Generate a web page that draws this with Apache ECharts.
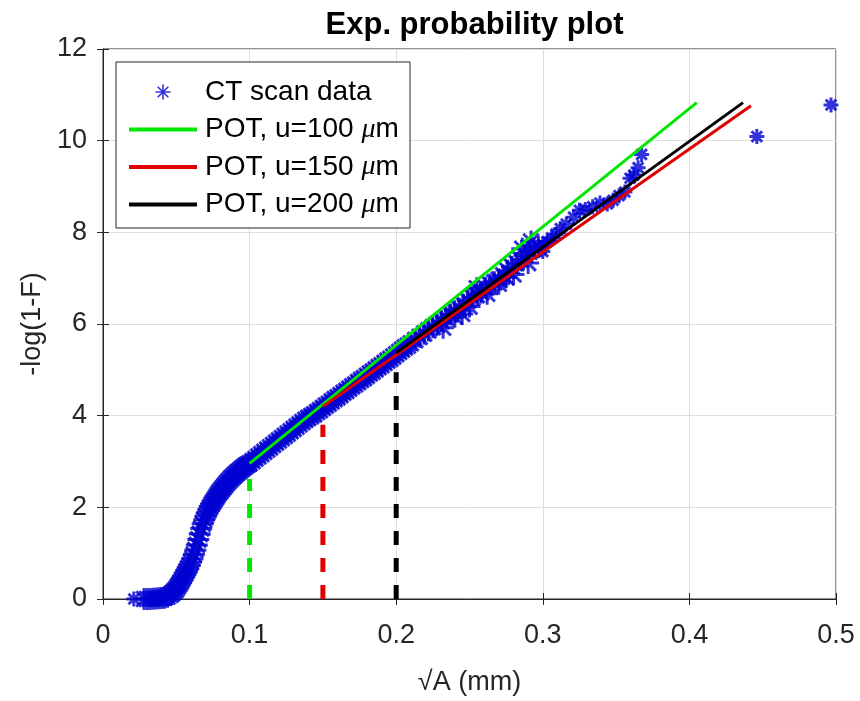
<!DOCTYPE html>
<html>
<head>
<meta charset="utf-8">
<script src="https://cdn.jsdelivr.net/npm/echarts@6/dist/echarts.min.js"></script>
<style>
html,body{margin:0;padding:0;background:#fff;}
#chart{width:860px;height:701px;}
</style>
</head>
<body>
<div id="chart"></div>
<script>
// ---- data ----
const xTickValues = [0, 0.1, 0.2, 0.3, 0.4, 0.5];
const yTickValues = [0, 2, 4, 6, 8, 10, 12];

// CT scan data: sqrt(A) in mm, -log(1-F)
const ctX = [
  0.021,0.028,0.030,0.032,0.034,0.036,0.038,0.040,0.042,0.044,0.046,
  0.047,0.048,0.049,0.050,0.051,0.052,0.053,0.054,0.055,0.056,0.057,0.058,0.059,0.060,
  0.061,0.062,0.063,0.064,0.065,0.066,0.067,0.068,0.069,0.070,0.071,0.072,0.073,
  0.074,0.075,0.076,0.077,0.078,0.079,0.080,0.081,0.082,0.083,0.084,0.085,0.086,0.087,0.088,0.089,0.090,0.091,0.092,
  0.093,0.094,0.095,0.096,0.097,0.098,0.099,0.100,0.102,0.104,0.106,0.108,0.110,0.112,0.114,0.116,0.118,
  0.120,0.122,0.124,0.126,0.128,0.130,0.132,0.134,0.136,0.138,0.140,0.142,0.144,
  0.146,0.148,0.150,0.152,0.154,0.156,0.158,0.160,0.162,0.164,0.166,0.168,0.170,0.172,0.174,0.176,0.178,0.180,
  0.182,0.184,0.186,0.188,0.190,0.192,0.194,0.196,0.198,0.200,0.202,0.204,0.206,0.208,0.210,0.213,0.216,0.219,
  0.222,0.225,0.228,0.231,0.234,0.237,0.240,0.243,0.246,0.249,0.252,0.255,0.258,
  0.261,0.264,0.267,0.270,0.273,0.276,0.279,0.282,0.285,0.288,0.291,0.294,0.297,
  0.300,0.303,0.306,0.309,0.312,0.316,0.321,0.325,0.329,0.334,0.339,0.344,0.348,
  0.352,0.356,0.3595,0.362,0.365,0.3674,0.446,0.4966,
  0.232,0.245,0.262,0.280,0.290,0.255,0.286,0.292,0.270,0.300,0.240,0.250,0.275
];
const ctY = [
  0.00,0.00,0.00,0.00,0.005,0.01,0.015,0.02,0.03,0.05,0.09,
  0.12,0.15,0.18,0.22,0.27,0.32,0.37,0.43,0.49,0.55,0.61,0.67,0.73,0.80,
  0.88,0.97,1.07,1.18,1.30,1.42,1.54,1.64,1.73,1.81,1.88,1.94,2.00,
  2.06,2.11,2.16,2.21,2.26,2.31,2.35,2.39,2.43,2.47,2.51,2.55,2.58,2.62,2.65,2.68,2.71,2.74,2.77,
  2.79,2.82,2.85,2.87,2.90,2.92,2.94,2.96,3.01,3.06,3.11,3.16,3.21,3.26,3.31,3.36,3.41,
  3.46,3.51,3.56,3.61,3.66,3.71,3.76,3.81,3.86,3.91,3.95,3.99,4.03,
  4.08,4.12,4.17,4.22,4.26,4.31,4.36,4.40,4.45,4.50,4.54,4.59,4.64,4.68,4.73,4.78,4.82,4.87,
  4.92,4.96,5.01,5.06,5.10,5.15,5.20,5.24,5.29,5.34,5.39,5.44,5.49,5.53,5.58,5.65,5.72,5.79,
  5.86,5.93,5.99,6.06,6.14,6.21,6.28,6.34,6.42,6.51,6.58,6.63,6.69,
  6.79,6.86,6.91,6.97,7.06,7.16,7.25,7.33,7.40,7.50,7.58,7.64,7.68,
  7.74,7.80,7.88,7.96,8.08,8.18,8.33,8.48,8.50,8.56,8.64,8.62,8.70,
  8.80,8.88,9.18,9.25,9.41,9.70,10.09,10.78,
  5.92,6.22,6.66,7.08,7.33,6.78,7.64,7.80,6.88,7.58,6.16,6.38,7.02
];

// POT fitted lines (start / end)
const pot100X = [0.100, 0.405];
const pot100Y = [2.96, 10.83];
const pot150X = [0.150, 0.442];
const pot150Y = [4.20, 10.76];
const pot200X = [0.200, 0.4366];
const pot200Y = [5.37, 10.83];

// threshold markers (dashed verticals)
const thrGreenX = [0.100, 0.100];
const thrGreenY = [0, 2.62];
const thrRedX = [0.150, 0.150];
const thrRedY = [0, 3.80];
const thrBlackX = [0.200, 0.200];
const thrBlackY = [0, 4.95];

const seriesNames = ['CT scan data', 'POT, u=100 μm', 'POT, u=150 μm', 'POT, u=200 μm'];

function pairs(xs, ys) { return xs.map((x, i) => [x, ys[i]]); }

const FONT = "'Liberation Sans', Arial, Helvetica, sans-serif";
const AX = '#262626';
const BLUE = '#0000d2';
const star = 'path://M0,-10L0,10M-10,0L10,0M-7.07,-7.07L7.07,7.07M-7.07,7.07L7.07,-7.07';
const lineIcon = 'path://M0,0H68V4H0Z';

const chart = echarts.init(document.getElementById('chart'), null, {renderer: 'canvas'});

const gridL = 103, gridR = 836, gridT = 49, gridB = 601;

const option = {
  backgroundColor: '#ffffff',
  animation: false,
  title: {
    text: 'Exp. probability plot',
    left: (gridL + gridR) / 2,
    textAlign: 'center',
    top: 5,
    textStyle: {fontFamily: FONT, fontSize: 31, fontWeight: 'bold', color: '#000'}
  },
  grid: {
    left: gridL, right: 860 - gridR, top: gridT, bottom: 701 - gridB,
    show: true, borderColor: AX, borderWidth: 1, backgroundColor: '#fff'
  },
  legend: {
    data: [
      {name: seriesNames[0], icon: star, itemStyle: {color: 'rgba(0,0,0,0)', borderColor: BLUE, borderWidth: 1.6}},
      {name: seriesNames[1], icon: lineIcon, itemStyle: {color: '#00e800', borderWidth: 0}},
      {name: seriesNames[2], icon: lineIcon, itemStyle: {color: '#e00000', borderWidth: 0}},
      {name: seriesNames[3], icon: lineIcon, itemStyle: {color: '#000000', borderWidth: 0}}
    ],
    orient: 'vertical',
    left: 129, top: 77,
    padding: 0,
    itemWidth: 68, itemHeight: 15,
    itemGap: 7.5,
    z: 20,
    formatter: function (name) { return name.replace('μm', '{mu|μ}m'); },
    textStyle: {
      fontFamily: FONT, fontSize: 28, color: '#000', lineHeight: 30, padding: [0, 0, 0, 3],
      rich: {mu: {fontFamily: "'Liberation Serif', 'DejaVu Serif', serif", fontStyle: 'italic', fontSize: 28, color: '#000', lineHeight: 30}}
    }
  },
  graphic: [{
    type: 'rect', z: 15, zlevel: 0,
    shape: {x: 116, y: 62, width: 294, height: 166},
    style: {fill: '#fff', stroke: AX, lineWidth: 1}
  }],
  xAxis: [{
    type: 'value', min: xTickValues[0], max: xTickValues[xTickValues.length - 1], interval: 0.1,
    position: 'bottom',
    name: '√A (mm)', nameLocation: 'middle', nameGap: 70,
    nameTextStyle: {fontFamily: FONT, fontSize: 27, color: AX},
    axisLine: {show: true, lineStyle: {color: AX, width: 1}},
    axisTick: {show: true, inside: true, length: 6, lineStyle: {color: AX}},
    axisLabel: {fontFamily: FONT, fontSize: 27, color: AX, margin: 23},
    splitLine: {show: true, lineStyle: {color: '#dedede', width: 1}}
  }, {
    type: 'value', min: xTickValues[0], max: xTickValues[xTickValues.length - 1], interval: 0.1,
    position: 'top',
    axisLine: {show: true, lineStyle: {color: AX, width: 1}},
    axisTick: {show: true, inside: true, length: 6, lineStyle: {color: AX}},
    axisLabel: {show: false}, splitLine: {show: false}
  }],
  yAxis: [{
    type: 'value', min: yTickValues[0], max: yTickValues[yTickValues.length - 1], interval: 2,
    position: 'left',
    name: '-log(1-F)', nameLocation: 'middle', nameGap: 52, nameRotate: 90,
    nameTextStyle: {fontFamily: FONT, fontSize: 27, color: AX},
    axisLine: {show: true, lineStyle: {color: AX, width: 1}},
    axisTick: {show: true, inside: true, length: 6, lineStyle: {color: AX}},
    axisLabel: {fontFamily: FONT, fontSize: 27, color: AX, margin: 16},
    splitLine: {show: true, lineStyle: {color: '#dedede', width: 1}}
  }, {
    type: 'value', min: yTickValues[0], max: yTickValues[yTickValues.length - 1], interval: 2,
    position: 'right',
    axisLine: {show: true, lineStyle: {color: AX, width: 1}},
    axisTick: {show: true, inside: true, length: 6, lineStyle: {color: AX}},
    axisLabel: {show: false}, splitLine: {show: false}
  }],
  series: [
    {
      name: seriesNames[0], type: 'scatter', data: pairs(ctX, ctY),
      symbol: star,
      symbolSize: function (v) { return (v[0] < 0.3 && v[0] > 0.025) ? 22 : 15; },
      itemStyle: {color: 'rgba(0,0,0,0)', borderColor: BLUE, borderWidth: 3},
      z: 3
    },
    {
      name: 'thr100', type: 'line', data: pairs(thrGreenX, thrGreenY), symbol: 'none',
      lineStyle: {color: '#00e800', width: 5, type: [14, 13]}, z: 4
    },
    {
      name: 'thr150', type: 'line', data: pairs(thrRedX, thrRedY), symbol: 'none',
      lineStyle: {color: '#e00000', width: 5, type: [14, 13]}, z: 4
    },
    {
      name: 'thr200', type: 'line', data: pairs(thrBlackX, thrBlackY), symbol: 'none',
      lineStyle: {color: '#000000', width: 5, type: [14, 13]}, z: 4
    },
    {
      name: seriesNames[1], type: 'line', data: pairs(pot100X, pot100Y), symbol: 'none',
      lineStyle: {color: '#00e800', width: 3}, itemStyle: {color: '#00e800'}, z: 5
    },
    {
      name: seriesNames[2], type: 'line', data: pairs(pot150X, pot150Y), symbol: 'none',
      lineStyle: {color: '#e00000', width: 3}, itemStyle: {color: '#e00000'}, z: 6
    },
    {
      name: seriesNames[3], type: 'line', data: pairs(pot200X, pot200Y), symbol: 'none',
      lineStyle: {color: '#000000', width: 3}, itemStyle: {color: '#000000'}, z: 7
    }
  ]
};
chart.setOption(option);
</script>
</body>
</html>
